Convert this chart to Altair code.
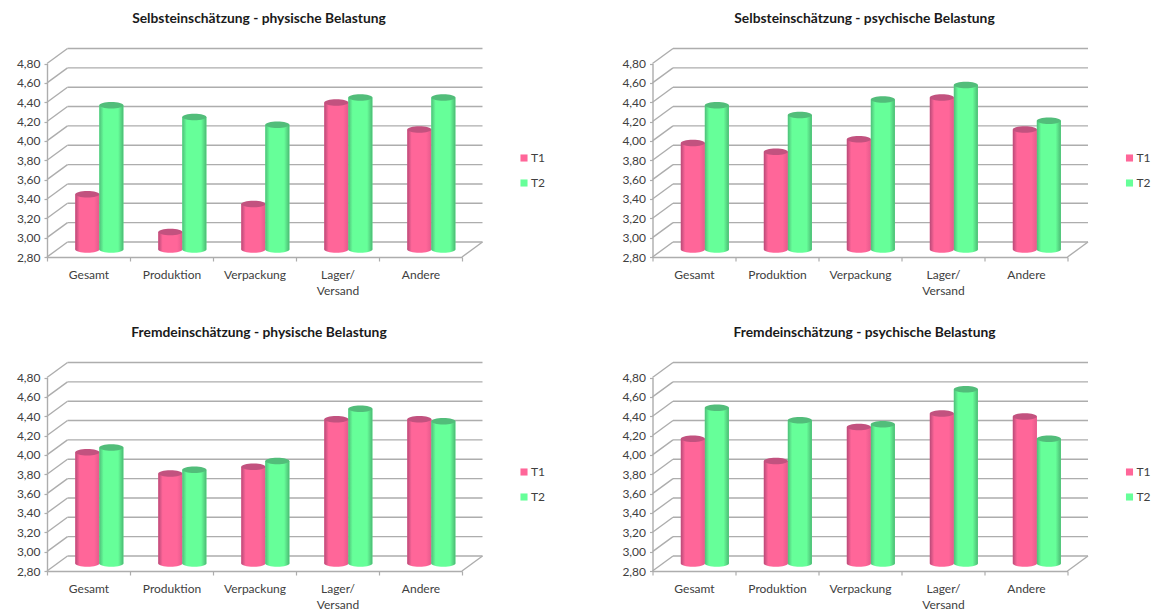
import altair as alt
import pandas as pd

# Categories, series and tick positions shared by all four panels
categories = ["Gesamt", "Produktion", "Verpackung", "Lager/\nVersand", "Andere"]
series = ["T1", "T2"]
y_ticks = [2.8, 3.0, 3.2, 3.4, 3.6, 3.8, 4.0, 4.2, 4.4, 4.6, 4.8]

titles = [
    "Selbsteinschätzung - physische Belastung",
    "Selbsteinschätzung - psychische Belastung",
    "Fremdeinschätzung - physische Belastung",
    "Fremdeinschätzung - psychische Belastung",
]

# Mean ratings per panel and time point
t1_values = [
    [3.37, 2.98, 3.27, 4.32, 4.04],
    [3.90, 3.81, 3.94, 4.37, 4.04],
    [3.95, 3.73, 3.80, 4.29, 4.29],
    [4.09, 3.86, 4.21, 4.35, 4.32],
]
t2_values = [
    [4.29, 4.17, 4.09, 4.37, 4.37],
    [4.29, 4.19, 4.35, 4.50, 4.13],
    [4.00, 3.77, 3.86, 4.40, 4.27],
    [4.41, 4.28, 4.24, 4.60, 4.09],
]

FONT = "Lato"
TEXT = "#404040"
GRID = "#adadad"
PINK = "#ff6699"
GREEN = "#66ff99"
PINK_CAP = "#c2527f"
GREEN_CAP = "#52bd7a"

# Plot geometry: front frame inside a larger view, back wall shifted up and right
PANEL_W, PANEL_H = 498, 209
FRONT_W = 415
DEPTH_X, DEPTH_Y = 20.5, 15
CYL_DY = 7.5
CYL_W = 24
Y_RANGE = [209, 15.5]

# Unit ellipse used for the cylinder ends
ELLIPSE = "M-1,0A1,0.27 0 1,0 1,0A1,0.27 0 1,0 -1,0Z"


def shaded(main, edge_left, edge_right):
    return alt.Gradient(
        gradient="linear", x1=0, x2=1, y1=0, y2=0,
        stops=[
            alt.GradientStop(offset=0, color=edge_left),
            alt.GradientStop(offset=0.18, color=main),
            alt.GradientStop(offset=0.78, color=main),
            alt.GradientStop(offset=1, color=edge_right),
        ],
    )


x_scale = alt.Scale(domain=categories, range=[0, FRONT_W], paddingInner=0, paddingOuter=0)
# Pairs sit halfway into the floor depth, so they lean to the right inside each band
off_scale = alt.Scale(
    domain=series, paddingInner=0, paddingOuter=(FRONT_W / 5 / CYL_W - 2) / 2, align=0.81,
)
y_scale = alt.Scale(domain=[2.8, 4.8], range=Y_RANGE, zero=False, nice=False)
color_scale = alt.Scale(domain=series, range=[PINK, GREEN])

# Every layer declares the same value axis so the merged axis keeps all its labels
y_axis = alt.Axis(
    values=y_ticks, title=None, grid=False, labelOverlap=False,
    labelExpr="replace(format(datum.value, '.2f'), '.', ',')",
    labelFont=FONT, labelFontSize=12, labelColor=TEXT, labelPadding=4,
    domainColor=GRID, domainWidth=1.4, tickColor=GRID, tickSize=3, tickWidth=1.2,
)
x_axis = alt.Axis(
    title=None, labelAngle=0, tickBand="extent",
    labelExpr="split(datum.label, '\\n')",
    labelFont=FONT, labelFontSize=12, labelColor=TEXT, labelPadding=8,
    labelLineHeight=16, labelBaseline="top",
    domainColor=GRID, domainWidth=1.6, tickColor=GRID, tickSize=4, tickWidth=1.2,
)


def cylinder(df, name, gradient, cap):
    sub = df[df["serie"] == name]
    base = alt.Chart(sub).encode(
        x=alt.X("kategorie:N", sort=categories, scale=x_scale, axis=x_axis),
        xOffset=alt.XOffset("serie:N", scale=off_scale),
    )
    y_val = alt.Y("wert:Q", scale=y_scale, axis=y_axis)
    body = base.mark_bar(
        fill=gradient, yOffset=-CYL_DY, y2Offset=-CYL_DY,
    ).encode(y=y_val, y2=alt.Y2(datum=2.8))
    foot = base.mark_point(
        shape=ELLIPSE, filled=True, fill=gradient, opacity=1, size=CYL_W ** 2,
        strokeWidth=0, yOffset=-CYL_DY,
    ).encode(y=alt.Y("boden:Q", scale=y_scale, axis=y_axis))
    top = base.mark_point(
        shape=ELLIPSE, filled=True, fill=cap, opacity=1, size=CYL_W ** 2,
        strokeWidth=0, yOffset=-CYL_DY,
    ).encode(y=y_val)
    return [foot, body, top]


def panel(title, t1, t2):
    df = pd.DataFrame({
        "kategorie": categories * 2,
        "serie": ["T1"] * 5 + ["T2"] * 5,
        "wert": t1 + t2,
        "boden": [2.8] * 10,
    })
    ticks = pd.DataFrame({"tick": y_ticks})
    floor = pd.DataFrame({"tick": [y_ticks[0]]})

    tick_y = alt.Y("tick:Q", scale=y_scale, axis=y_axis)
    back_lines = alt.Chart(ticks).mark_rule(
        color=GRID, strokeWidth=1.4, yOffset=-DEPTH_Y,
    ).encode(
        y=tick_y,
        x=alt.value(DEPTH_X),
        x2=alt.value(FRONT_W + DEPTH_X),
    )
    left_lines = alt.Chart(ticks).mark_rule(
        color=GRID, strokeWidth=1.4, y2Offset=-DEPTH_Y,
    ).encode(y=tick_y, y2=alt.Y2("tick:Q"), x=alt.value(0), x2=alt.value(DEPTH_X))
    floor_line = alt.Chart(floor).mark_rule(
        color=GRID, strokeWidth=1.4, y2Offset=-DEPTH_Y,
    ).encode(y=tick_y, y2=alt.Y2("tick:Q"), x=alt.value(FRONT_W), x2=alt.value(FRONT_W + DEPTH_X))

    # Flat bars under the shaded cylinders carry the colour legend
    legend_bars = alt.Chart(df).mark_bar(
        yOffset=-CYL_DY, y2Offset=-CYL_DY,
    ).encode(
        x=alt.X("kategorie:N", sort=categories, scale=x_scale, axis=x_axis),
        xOffset=alt.XOffset("serie:N", scale=off_scale),
        y=alt.Y("wert:Q", scale=y_scale, axis=y_axis),
        y2=alt.Y2(datum=2.8),
        color=alt.Color(
            "serie:N", scale=color_scale,
            legend=alt.Legend(
                title=None, orient="none", legendX=471, legendY=104,
                symbolType="square", symbolSize=50, symbolStrokeWidth=0,
                labelFont=FONT, labelFontSize=12, labelColor=TEXT,
                labelOffset=1, rowPadding=13,
            ),
        ),
    )

    layers = [back_lines, left_lines, floor_line, legend_bars]
    layers += cylinder(df, "T1", shaded(PINK, "#b84a78", "#e65a8c"), PINK_CAP)
    layers += cylinder(df, "T2", shaded(GREEN, "#4fbf7a", "#4cba74"), GREEN_CAP)

    return alt.layer(*layers).resolve_scale(x="shared", y="shared").properties(
        width=PANEL_W,
        height=PANEL_H,
        title=alt.Title(
            title, font=FONT, fontSize=13.8, fontWeight="bold", color="#1a1a1a",
            anchor="middle", dx=-37, offset=22,
        ),
    )


panels = [panel(t, a, b) for t, a, b in zip(titles, t1_values, t2_values)]

chart = alt.concat(*panels, columns=2, spacing={"row": 105, "column": 107.5}, bounds="flush").resolve_scale(
    color="independent"
).resolve_legend(color="independent").properties(
    padding={"left": 16, "top": 12, "right": 0, "bottom": 0},
    background="white",
).configure_view(stroke=None).configure_axis(labelOverlap=False)

chart.save("out.html", embed_options={"renderer": "svg", "actions": False})
